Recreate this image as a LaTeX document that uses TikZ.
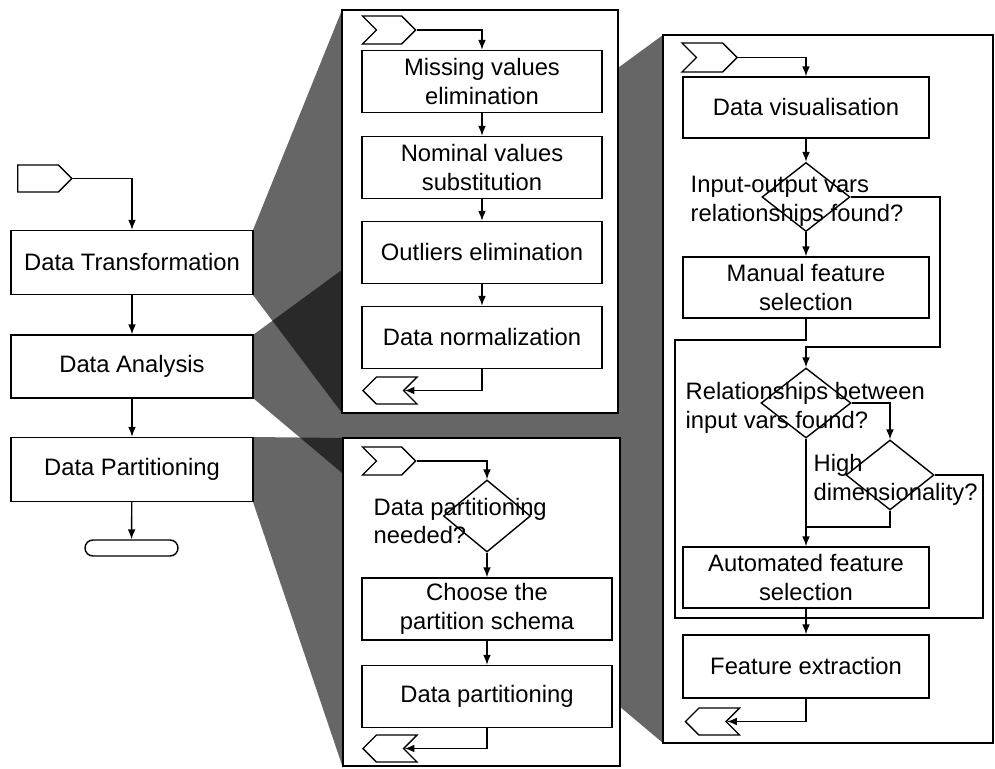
\documentclass[tikz,border=0pt]{standalone}
\usepackage{fontspec}
\setmainfont{Liberation Sans}
\usepackage{tikz}
\usetikzlibrary{positioning,calc,arrows.meta,shapes.geometric,shapes.symbols,shapes.misc}
\tikzset{proc/.style={draw, fill=white, align=center, inner sep=1mm, minimum width=6cm, minimum height=1.55cm}}
\tikzset{panel/.style={draw, fill=white}}
\tikzset{proj/.style={fill=black, fill opacity=0.6}}
\tikzset{dec/.style={draw, diamond, inner sep=0pt}}
\tikzset{qtext/.style={draw=none, align=left, inner sep=0pt, anchor=west}}
\tikzset{chevin/.style={draw, signal, signal to=east, signal from=west, inner sep=0pt, minimum width=1.325cm, minimum height=0.7cm}}
\tikzset{chevout/.style={draw, signal, signal to=west, signal from=east, inner sep=0pt, minimum width=1.35cm, minimum height=0.675cm}}
\tikzset{
  flow/.style={black,-{Latex[length=7pt,width=5.5pt]}},
  link/.style={black}
}

\begin{document}
\begin{tikzpicture}[x=0.025cm, y=-0.025cm, line width=1pt,
  font=\fontsize{16.9}{20.6}\selectfont]
\useasboundingbox (0,0) rectangle (995,769);

% zoom shadows
\fill[proj] (253,335) -- (663,35) -- (663,743) -- (253,398) -- cycle;
\fill[proj] (253,230) -- (342,10) -- (342,413) -- (253,295) -- cycle;
\fill[proj] (253,437) -- (343,438) -- (343,768) -- (253,502) -- cycle;

% panels
\draw[panel] (342,10) rectangle (618,413);
\draw[panel] (343,438) rectangle (620,766);
\draw[panel] (663,35) rectangle (993,743);

% main flow
\node[draw, signal, signal to=east, inner sep=0pt, minimum width=1.35cm,
  minimum height=0.675cm] (ls) at (38,178.5) {};
\node[proc, minimum width=6.05cm, minimum height=1.6cm] (dt) at (132,262.5) {Data Transformation};
\node[proc, minimum width=6.05cm, minimum height=1.575cm] (da) at (132,366.5) {Data Analysis};
\node[proc, minimum width=6.05cm, minimum height=1.6cm] (dp) at (132,469.5) {Data Partitioning};
\node[draw, rounded rectangle, inner sep=0pt, minimum width=2.325cm,
  minimum height=0.4cm] (le) at (131.5,548) {};

\draw[flow] (ls.east) -| (dt.north);
\draw[flow] (dt) -- (da);
\draw[flow] (da) -- (dp);
\draw[flow] (dp) -- (le);

% transformation
\node[chevin] (s1) at (389,30) {};
\node[proc] (mv) at (482,81.5) {Missing values\\elimination};
\node[proc] (nv) at (482,167.5) {Nominal values\\substitution};
\node[proc] (oe) at (482,252.5) {Outliers elimination};
\node[proc] (dn) at (482,337.5) {Data normalization};
\node[chevout] (e1) at (390,390.5) {};

\draw[flow] (s1.east) -| (mv.north);
\draw[flow] (mv) -- (nv);
\draw[flow] (nv) -- (oe);
\draw[flow] (oe) -- (dn);
\draw[flow] (dn.south) |- (e1.east);

% partitioning
\node[chevin] (s2) at (389,461) {};
\node[dec, minimum width=2.175cm, minimum height=1.8cm] (pq) at (487,516) {};
\node[qtext] (pqt) at (373,521) {Data partitioning\\needed?};
\node[proc, minimum width=6.25cm] (cs) at (487,609) {Choose the\\partition schema};
\node[proc, minimum width=6.25cm] (pa) at (487,696.5) {Data partitioning};
\node[chevout] (e2) at (390,748.5) {};

\draw[flow] (s2.east) -| (pq.north);
\draw[flow] (pq) -- (cs);
\draw[flow] (cs) -- (pa);
\draw[flow] (pa.south) |- (e2.east);

% analysis
\node[chevin, minimum width=1.375cm, minimum height=0.725cm] (s3) at (709.5,57.5) {};
\node[proc, minimum width=6.15cm, minimum height=1.525cm] (dv) at (806,107.5) {Data visualisation};
\node[dec, minimum width=2.2cm, minimum height=1.725cm] (q1) at (806,197) {};
\node[qtext] (q1t) at (690,201) {Input-output vars\\relationships found?};
\node[proc, minimum width=6.15cm, minimum height=1.525cm] (mf) at (806,287.5) {Manual feature\\selection};
\node[dec, minimum width=2.25cm, minimum height=1.75cm] (q2) at (806,403) {};
\node[qtext] (q2t) at (685,408) {Relationships between\\input vars found?};
\node[dec, minimum width=2.2cm, minimum height=1.75cm] (q3) at (890,475) {};
\node[qtext] (q3t) at (813,480) {High\\dimensionality?};
\node[proc, minimum width=6.15cm, minimum height=1.525cm] (af) at (806,577.5) {Automated feature\\selection};
\node[proc, minimum width=6.15cm, minimum height=1.575cm] (fe) at (806,666.5) {Feature extraction};
\node[chevout] (e3) at (712.5,721.5) {};

\coordinate (k1) at (940,347);
\coordinate (k2) at (675,340);
\coordinate (k3) at (983,618);
\coordinate (k4) at (806,527);

\draw[flow] (s3.east) -| (dv.north);
\draw[flow] (dv) -- (q1);
\draw[flow] (q1) -- (mf);
\draw[flow] (q1.east) -| (k1) -| (q2.north);
\draw[link] (mf.south) |- (k2) |- (k3) |- (q3.east);
\draw[flow] (q2.east) -| (q3.north);
\draw[flow] (q2) -- (af);
\draw[link] (q3.south) |- (k4);
\draw[flow] (af) -- (fe);
\draw[flow] (fe.south) |- (e3.east);
\end{tikzpicture}
\end{document}
